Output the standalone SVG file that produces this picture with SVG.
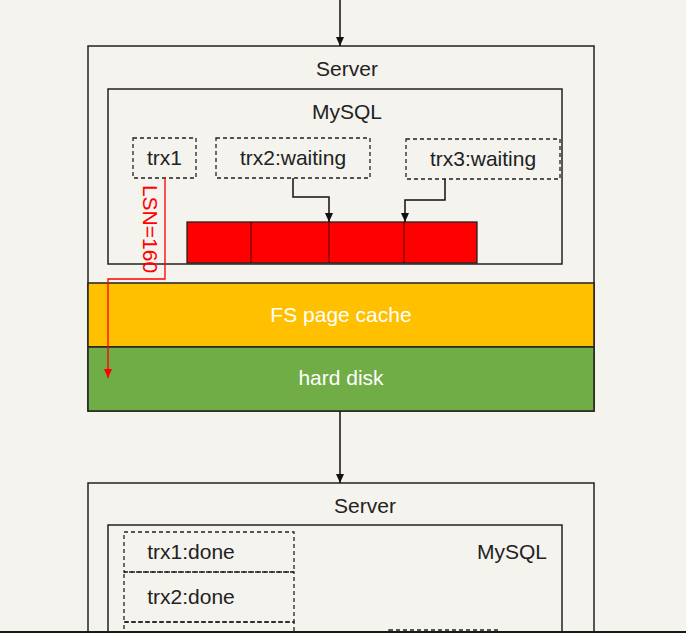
<svg xmlns="http://www.w3.org/2000/svg" width="686" height="633" viewBox="0 0 686 633">
<style>
.box{fill:none;stroke:#222;stroke-width:1.5}
.dash{fill:none;stroke:#222;stroke-width:1.3;stroke-dasharray:4 3}
.t{font-family:"Liberation Sans",Arial,sans-serif;font-size:21px;fill:#222;text-anchor:middle}
.w{fill:#fff}
.ln{fill:none;stroke:#111;stroke-width:1.5}
.red{fill:none;stroke:#f00;stroke-width:1.3}
</style>
<defs>
<marker id="ah" markerWidth="10" markerHeight="10" refX="9" refY="5" orient="auto" markerUnits="userSpaceOnUse"><path d="M0,1 L9,5 L0,9 Z" fill="#111"/></marker>
<marker id="ahr" markerWidth="10" markerHeight="10" refX="9" refY="5" orient="auto" markerUnits="userSpaceOnUse"><path d="M0,1 L9,5 L0,9 Z" fill="#f00"/></marker>
</defs>
<rect width="686" height="633" fill="#F4F3EE"/>
<g id="server1">
<rect class="box" x="88" y="46" width="506" height="365"/>
<text class="t" x="347" y="76">Server</text>
</g>
<g id="mysql1">
<rect class="box" x="108" y="89" width="454" height="175"/>
<text class="t" x="347" y="119">MySQL</text>
</g>
<g id="trx1"><rect class="dash" x="133" y="138" width="63" height="40"/><text class="t" x="164.500" y="165">trx1</text></g>
<g id="trx2"><rect class="dash" x="216" y="138" width="154" height="40"/><text class="t" x="293" y="165">trx2:waiting</text></g>
<g id="trx3"><rect class="dash" x="406" y="139" width="154" height="40"/><text class="t" x="483" y="166">trx3:waiting</text></g>
<g id="buffer">
<rect x="187" y="222" width="290" height="41" fill="#f00" stroke="#222" stroke-width="1.3"/>
<path d="M251,222V263M329,222V263M404,222V263" stroke="#600" stroke-width="1.2"/>
</g>
<g id="fscache">
<rect x="88" y="283" width="506" height="64" fill="#FFC000" stroke="#222" stroke-width="1.5"/>
<text class="t w" x="341" y="322">FS page cache</text>
</g>
<g id="disk">
<rect x="88" y="347" width="506" height="64" fill="#70AD47" stroke="#222" stroke-width="1.5"/>
<text class="t w" x="341" y="385">hard disk</text>
</g>
<g id="server2">
<rect class="box" x="88" y="483" width="506" height="170"/>
<text class="t" x="365" y="513">Server</text>
</g>
<g id="mysql2">
<rect class="box" x="108" y="525" width="454" height="130"/>
<text class="t" x="512" y="559">MySQL</text>
</g>
<g id="trx1done"><rect class="dash" x="124" y="532" width="170" height="40"/><text class="t" x="191" y="559">trx1:done</text></g>
<g id="trx2done"><rect class="dash" x="124" y="572" width="170" height="50"/><text class="t" x="191" y="604">trx2:done</text></g>
<g id="trx3done"><rect class="dash" x="124" y="622" width="170" height="40"/></g>
<g id="other"><rect class="dash" x="389" y="630" width="111" height="30"/></g>
<g id="connectors">
<path class="ln" d="M340,0V46" marker-end="url(#ah)"/>
<path class="ln" d="M293,178V197H329V222" marker-end="url(#ah)"/>
<path class="ln" d="M445,179V200H405V222" marker-end="url(#ah)"/>
<path class="ln" d="M340,411V483" marker-end="url(#ah)"/>
<path class="red" d="M165,178V279H108V378" marker-end="url(#ahr)"/>
<text class="t" x="0" y="0" style="fill:#f00;font-size:21px" transform="translate(143,229) rotate(90)">LSN=160</text>
</g>
<rect x="0" y="631" width="686" height="2" fill="#1a1a10"/>
</svg>
